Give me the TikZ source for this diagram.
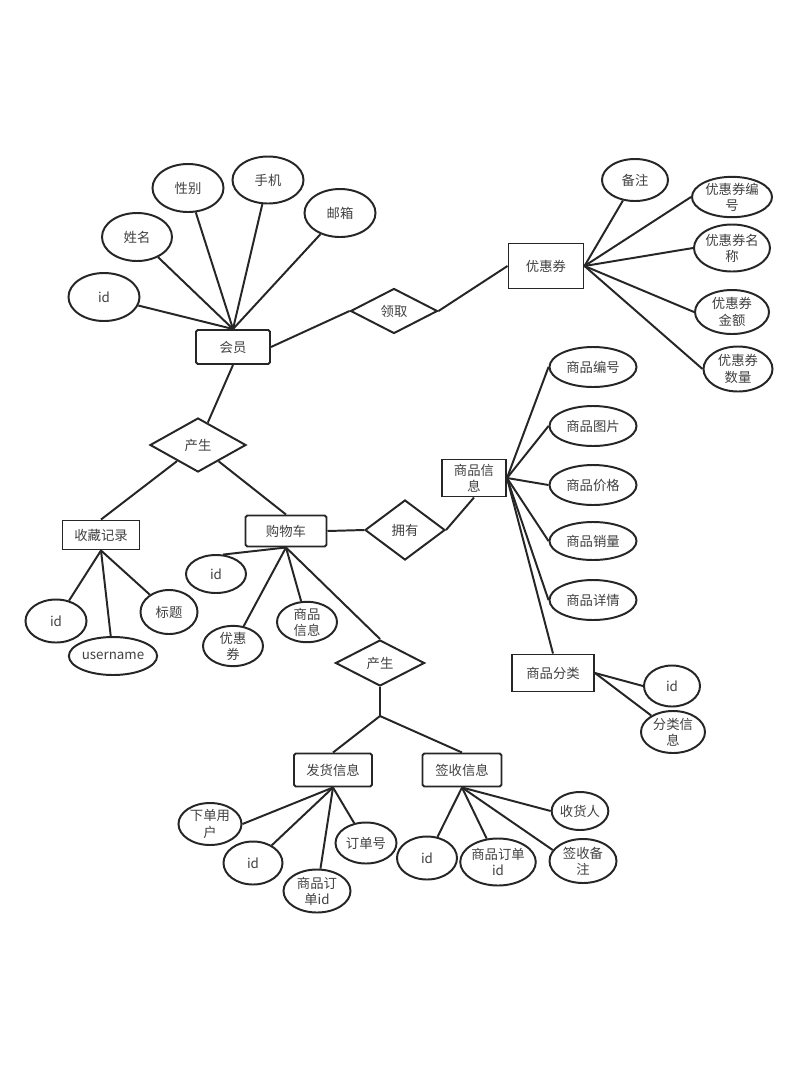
\documentclass[tikz,border=0pt]{standalone}
\usepackage{fontspec}
\setmainfont{Noto Sans CJK SC}
\usetikzlibrary{shapes.geometric}
\begin{document}
\begin{tikzpicture}[x=0.025cm,y=-0.025cm,line width=1.4pt,draw=black!85,
    every node/.style={font=\fontsize{9.5}{11.5}\selectfont,text=black!75,inner sep=0pt,align=center},
    ent/.style={draw,rectangle,rounded corners=1.2pt},
    attr/.style={draw,ellipse,minimum width=1.5cm,minimum height=1.05cm},
    rel/.style={draw,diamond}]
    \useasboundingbox (0,0) rectangle (800,1067);

    \node[ent,minimum width=1.85cm,minimum height=0.85cm] (member) at (233,347) {会员};
    \node[attr,minimum width=1.775cm,minimum height=1.2cm] (mid) at (104,297) {id};
    \node[attr,minimum width=1.75cm,minimum height=1.2cm] (mname) at (137,237) {姓名};
    \node[attr,minimum width=1.775cm,minimum height=1.2cm] (msex) at (188,188) {性别};
    \node[attr,minimum width=1.775cm,minimum height=1.175cm] (mphone) at (268,180) {手机};
    \node[attr,minimum width=1.775cm,minimum height=1.2cm] (mmail) at (340,213) {邮箱};
    \foreach \a in {mid,mname,msex,mphone,mmail}
        \draw (\a) -- (member.north);

    \node[rel,minimum width=2.175cm,minimum height=1.125cm] (receive) at (394,311) {领取};
    \node[ent,rounded corners=0pt,minimum width=1.875cm,minimum height=1.125cm] (coupon) at (546,266) {优惠券};
    \draw (member.east) -- (receive.west);
    \draw (receive.east) -- (coupon.west);

    \node[attr,minimum width=1.65cm,minimum height=1.05cm] (cnote) at (635,180) {备注};
    \node[attr,minimum width=2cm,minimum height=0.975cm] (cno) at (732,197) {优惠券编\\号};
    \node[attr,minimum width=1.9cm,minimum height=1.175cm] (cname) at (732,248) {优惠券名\\称};
    \node[attr,minimum width=1.85cm,minimum height=1.1cm] (camount) at (732,312) {优惠券\\金额};
    \node[attr,minimum width=1.725cm,minimum height=1.125cm] (cnum) at (738,369) {优惠券\\数量};
    \draw (coupon.east) -- (cnote);
    \foreach \a in {cno,cname,camount,cnum}
        \draw (coupon.east) -- (\a.west);

    \node[rel,minimum width=2.4cm,minimum height=1.35cm] (gen) at (198,445) {产生};
    \draw (member.south) -- (gen);

    \node[ent,rounded corners=0pt,minimum width=1.925cm,minimum height=0.725cm] (collect) at (101,535) {收藏记录};
    \node[ent,minimum width=2.025cm,minimum height=0.775cm] (cart) at (286,531) {购物车};
    \draw (gen) -- (collect.north);
    \draw (gen) -- (cart.north);

    \node[attr,minimum width=1.525cm,minimum height=1.075cm] (fid) at (56,621) {id};
    \node[attr,minimum width=2.175cm,minimum height=0.95cm] (fuser) at (113,656) {username};
    \node[attr,minimum width=1.425cm,minimum height=1.1cm] (ftitle) at (169,612) {标题};
    \foreach \a in {fid,fuser,ftitle}
        \draw (collect.south) -- (\a);

    \node[attr,minimum width=1.5cm,minimum height=0.95cm] (sid) at (216,574) {id};
    \node[attr,minimum width=1.5cm,minimum height=0.925cm] (scoupon) at (233,646) {优惠\\券};
    \node[attr,minimum width=1.5cm,minimum height=1cm] (sgoods) at (307,622) {商品\\信息};
    \draw (cart.south) -- (sid.70);
    \foreach \a in {scoupon,sgoods}
        \draw (cart.south) -- (\a);

    \node[rel,minimum width=2cm,minimum height=1.5cm] (own) at (405,530) {拥有};
    \node[ent,rounded corners=0pt,minimum width=1.6cm,minimum height=0.925cm] (goods) at (474,478) {商品信\\息};
    \draw (cart.east) -- (own.west);
    \draw (own.east) -- (goods.south);

    \node[attr,minimum width=2.175cm,minimum height=1cm] (gno) at (593,367) {商品编号};
    \node[attr,minimum width=2.175cm,minimum height=1cm] (gpic) at (593,426) {商品图片};
    \node[attr,minimum width=2.175cm,minimum height=1cm] (gprice) at (593,485) {商品价格};
    \node[attr,minimum width=2.175cm,minimum height=0.95cm] (gsale) at (593,541) {商品销量};
    \node[attr,minimum width=2.175cm,minimum height=1cm] (gdetail) at (593,600) {商品详情};
    \node[ent,rounded corners=0pt,minimum width=2.05cm,minimum height=0.925cm] (kind) at (553,673) {商品分类};
    \foreach \a in {gno,gpic,gprice,gsale,gdetail}
        \draw (goods.east) -- (\a.west);
    \draw (goods.east) -- (kind.north);

    \node[attr,minimum width=1.4cm,minimum height=1.025cm] (kid) at (672,686) {id};
    \node[attr,minimum width=1.6cm,minimum height=1.05cm] (kinfo) at (673,732) {分类信\\息};
    \draw (kind.east) -- (kid.west);
    \draw (kind.east) -- (kinfo);

    \node[rel,minimum width=2.225cm,minimum height=1.15cm] (gen2) at (380,663) {产生};
    \draw (cart.south) -- (gen2.north);
    \coordinate (fork) at (380,716);
    \node[ent,minimum width=1.95cm,minimum height=0.825cm] (ship) at (333,770) {发货信息};
    \node[ent,minimum width=1.975cm,minimum height=0.825cm] (sign) at (462,770) {签收信息};
    \draw (gen2.south) -- (fork);
    \draw (fork) -- (ship.north);
    \draw (fork) -- (sign.north);

    \node[attr,minimum width=1.575cm,minimum height=1.05cm] (puser) at (210,824) {下单用\\户};
    \node[attr,minimum width=1.475cm,minimum height=1.075cm] (pid) at (253,863) {id};
    \node[attr,minimum width=1.675cm,minimum height=1.075cm] (porder) at (317,891) {商品订\\单id};
    \node[attr,minimum width=1.525cm,minimum height=1.025cm] (pno) at (366,843) {订单号};
    \draw (ship.south) -- (puser.east);
    \foreach \a in {pid,porder,pno}
        \draw (ship.south) -- (\a);

    \node[attr,minimum width=1.5cm,minimum height=1.075cm] (qid) at (427,858) {id};
    \node[attr,minimum width=1.85cm,minimum height=1.175cm] (qorder) at (498,862) {商品订单\\id};
    \node[attr,minimum width=1.375cm,minimum height=0.95cm] (qman) at (580,811) {收货人};
    \node[attr,minimum width=1.675cm,minimum height=1.1cm] (qnote) at (583,861) {签收备\\注};
    \foreach \a in {qid,qorder}
        \draw (sign.south) -- (\a);
    \draw (sign.south) -- (qman.west);
    \draw (sign.south) -- (qnote.160);
\end{tikzpicture}
\end{document}
